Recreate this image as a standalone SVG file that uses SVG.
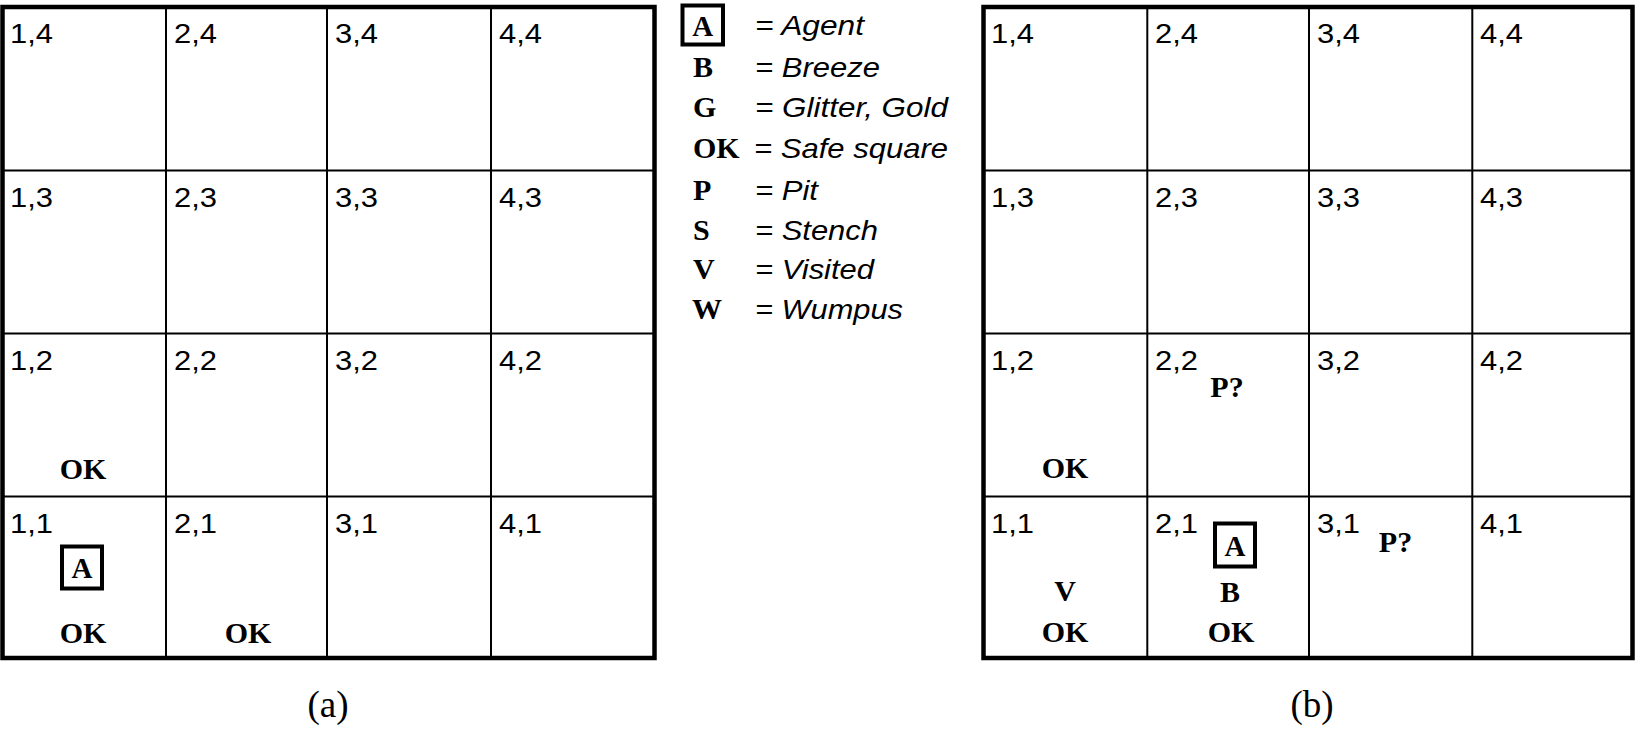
<svg xmlns="http://www.w3.org/2000/svg" width="1637" height="737" viewBox="0 0 1637 737">
<style>
.frame{fill:none;stroke:#000;stroke-width:4.5}
.line{stroke:#000;stroke-width:2;fill:none}
.agent{fill:none;stroke:#000;stroke-width:4}
.lab{font-family:"Liberation Sans",Arial,sans-serif;font-size:28px;fill:#000}
.bs{font-family:"Liberation Serif","Times New Roman",serif;font-weight:bold;font-size:30px;fill:#000;text-anchor:middle}
.bl{font-family:"Liberation Serif","Times New Roman",serif;font-weight:bold;font-size:30px;fill:#000}
.leg{font-family:"Liberation Sans",Arial,sans-serif;font-style:italic;font-size:28.5px;fill:#000}
.cap{font-family:"Liberation Serif","Times New Roman",serif;font-size:37px;fill:#000;text-anchor:middle}
.ag{font-size:29px}
</style>
<rect width="1637" height="737" fill="#fff"/>

<g id="grid-a">
  <rect class="frame" x="2.5" y="7" width="652" height="651"/>
  <path class="line" d="M166 7V658M327 7V658M491 7V658M2.5 170.5H654.5M2.5 333.5H654.5M2.5 496.5H654.5"/>
  <g class="lab">
    <text x="10" y="42.5" textLength="43" lengthAdjust="spacingAndGlyphs">1,4</text>
    <text x="174" y="42.5" textLength="43" lengthAdjust="spacingAndGlyphs">2,4</text>
    <text x="335" y="42.5" textLength="43" lengthAdjust="spacingAndGlyphs">3,4</text>
    <text x="499" y="42.5" textLength="43" lengthAdjust="spacingAndGlyphs">4,4</text>
    <text x="10" y="207" textLength="43" lengthAdjust="spacingAndGlyphs">1,3</text>
    <text x="174" y="207" textLength="43" lengthAdjust="spacingAndGlyphs">2,3</text>
    <text x="335" y="207" textLength="43" lengthAdjust="spacingAndGlyphs">3,3</text>
    <text x="499" y="207" textLength="43" lengthAdjust="spacingAndGlyphs">4,3</text>
    <text x="10" y="370" textLength="43" lengthAdjust="spacingAndGlyphs">1,2</text>
    <text x="174" y="370" textLength="43" lengthAdjust="spacingAndGlyphs">2,2</text>
    <text x="335" y="370" textLength="43" lengthAdjust="spacingAndGlyphs">3,2</text>
    <text x="499" y="370" textLength="43" lengthAdjust="spacingAndGlyphs">4,2</text>
    <text x="10" y="533" textLength="43" lengthAdjust="spacingAndGlyphs">1,1</text>
    <text x="174" y="533" textLength="43" lengthAdjust="spacingAndGlyphs">2,1</text>
    <text x="335" y="533" textLength="43" lengthAdjust="spacingAndGlyphs">3,1</text>
    <text x="499" y="533" textLength="43" lengthAdjust="spacingAndGlyphs">4,1</text>
  </g>
  <g id="a-cell-1-2"><text class="bs" x="83" y="479">OK</text></g>
  <g id="a-cell-1-1">
    <rect class="agent" x="62" y="546.5" width="40" height="42"/>
    <text class="bs ag" x="82" y="578">A</text>
    <text class="bs" x="83" y="643">OK</text>
  </g>
  <g id="a-cell-2-1"><text class="bs" x="248" y="643">OK</text></g>
</g>

<g id="legend">
  <g id="legend-agent">
    <rect class="agent" x="682.5" y="5.5" width="40.5" height="39"/>
    <text class="bs ag" x="702.7" y="36">A</text>
    <text class="leg" x="755" y="35" textLength="109" lengthAdjust="spacingAndGlyphs">= Agent</text>
  </g>
  <g id="legend-b"><text class="bl" x="693" y="77">B</text><text class="leg" x="755" y="77" textLength="125" lengthAdjust="spacingAndGlyphs">= Breeze</text></g>
  <g id="legend-g"><text class="bl" x="693" y="117">G</text><text class="leg" x="755" y="117" textLength="193" lengthAdjust="spacingAndGlyphs">= Glitter, Gold</text></g>
  <g id="legend-ok"><text class="bl" x="693" y="158">OK</text><text class="leg" x="754" y="158" textLength="194" lengthAdjust="spacingAndGlyphs">= Safe square</text></g>
  <g id="legend-p"><text class="bl" x="693" y="200">P</text><text class="leg" x="755" y="200" textLength="63" lengthAdjust="spacingAndGlyphs">= Pit</text></g>
  <g id="legend-s"><text class="bl" x="693" y="240">S</text><text class="leg" x="755" y="240" textLength="123" lengthAdjust="spacingAndGlyphs">= Stench</text></g>
  <g id="legend-v"><text class="bl" x="693" y="279">V</text><text class="leg" x="755" y="279" textLength="119" lengthAdjust="spacingAndGlyphs">= Visited</text></g>
  <g id="legend-w"><text class="bl" x="692" y="319">W</text><text class="leg" x="755" y="319" textLength="148" lengthAdjust="spacingAndGlyphs">= Wumpus</text></g>
</g>

<g id="grid-b">
  <rect class="frame" x="983.5" y="7" width="649" height="651"/>
  <path class="line" d="M1147.3 7V658M1309 7V658M1472.3 7V658M983.5 170.5H1632.5M983.5 333.5H1632.5M983.5 496.5H1632.5"/>
  <g class="lab">
    <text x="991" y="42.5" textLength="43" lengthAdjust="spacingAndGlyphs">1,4</text>
    <text x="1155" y="42.5" textLength="43" lengthAdjust="spacingAndGlyphs">2,4</text>
    <text x="1317" y="42.5" textLength="43" lengthAdjust="spacingAndGlyphs">3,4</text>
    <text x="1480" y="42.5" textLength="43" lengthAdjust="spacingAndGlyphs">4,4</text>
    <text x="991" y="207" textLength="43" lengthAdjust="spacingAndGlyphs">1,3</text>
    <text x="1155" y="207" textLength="43" lengthAdjust="spacingAndGlyphs">2,3</text>
    <text x="1317" y="207" textLength="43" lengthAdjust="spacingAndGlyphs">3,3</text>
    <text x="1480" y="207" textLength="43" lengthAdjust="spacingAndGlyphs">4,3</text>
    <text x="991" y="370" textLength="43" lengthAdjust="spacingAndGlyphs">1,2</text>
    <text x="1155" y="370" textLength="43" lengthAdjust="spacingAndGlyphs">2,2</text>
    <text x="1317" y="370" textLength="43" lengthAdjust="spacingAndGlyphs">3,2</text>
    <text x="1480" y="370" textLength="43" lengthAdjust="spacingAndGlyphs">4,2</text>
    <text x="991" y="533" textLength="43" lengthAdjust="spacingAndGlyphs">1,1</text>
    <text x="1155" y="533" textLength="43" lengthAdjust="spacingAndGlyphs">2,1</text>
    <text x="1317" y="533" textLength="43" lengthAdjust="spacingAndGlyphs">3,1</text>
    <text x="1480" y="533" textLength="43" lengthAdjust="spacingAndGlyphs">4,1</text>
  </g>
  <g id="b-cell-1-2"><text class="bs" x="1065" y="478">OK</text></g>
  <g id="b-cell-2-2"><text class="bs" x="1227" y="397">P?</text></g>
  <g id="b-cell-1-1">
    <text class="bs" x="1065" y="601">V</text>
    <text class="bs" x="1065" y="642">OK</text>
  </g>
  <g id="b-cell-2-1">
    <rect class="agent" x="1215" y="523.5" width="40" height="43"/>
    <text class="bs ag" x="1235" y="556">A</text>
    <text class="bs" x="1230" y="602">B</text>
    <text class="bs" x="1231" y="642">OK</text>
  </g>
  <g id="b-cell-3-1"><text class="bs" x="1395.5" y="552">P?</text></g>
</g>

<g id="captions">
  <text class="cap" x="328" y="717">(a)</text>
  <text class="cap" x="1312" y="717">(b)</text>
</g>
</svg>
